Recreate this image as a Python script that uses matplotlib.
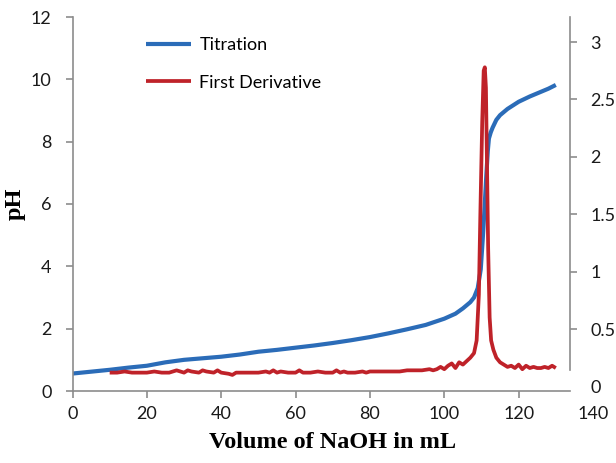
import matplotlib
import matplotlib.pyplot as plt

matplotlib.use("agg")

# titration curve (pH vs mL NaOH)
vol = [0, 5, 10, 15, 20, 25, 30, 35, 40, 45, 50, 55, 60, 65, 70, 75, 80, 85,
       90, 95, 100, 103, 105, 107, 108, 109, 109.8, 110.3, 110.8, 111.3, 111.7,
       112.0, 112.5, 113, 114, 115, 117, 120, 123, 126, 128, 130]
ph = [0.56, 0.62, 0.68, 0.75, 0.81, 0.92, 1.00, 1.05, 1.10, 1.17, 1.26, 1.32,
      1.39, 1.46, 1.54, 1.63, 1.73, 1.85, 1.98, 2.12, 2.32, 2.48, 2.65, 2.85,
      3.00, 3.30, 3.90, 4.80, 5.80, 6.90, 7.70, 8.10, 8.30, 8.45, 8.70, 8.85,
      9.05, 9.28, 9.45, 9.60, 9.70, 9.82]

# first derivative
dvol = [10, 12, 14, 16, 18, 20, 22, 24, 26, 27, 28,
        30, 31, 32, 34, 35, 36, 38, 39, 40, 42, 43,
        44, 46, 48, 50, 52, 53, 54, 55, 56, 58, 60,
        61, 62, 64, 66, 68, 70, 71, 72, 73, 74, 76,
        78, 79, 80, 82, 84, 86, 88, 90, 92, 94, 96,
        97, 98, 99, 100, 101, 102, 103, 104, 105, 106, 107,
        108, 108.7, 109.3, 109.7, 110.2, 110.6, 110.9, 111.2, 111.5, 111.8, 112.2,
        112.6, 113.2, 114, 115, 116, 117, 118, 119, 120, 121, 122,
        123, 124, 125, 126, 127, 128, 129, 130]
deriv = [0.12, 0.12, 0.13, 0.12, 0.12, 0.12, 0.13, 0.12, 0.12, 0.13, 0.14,
         0.12, 0.14, 0.13, 0.12, 0.14, 0.13, 0.12, 0.14, 0.12, 0.11, 0.10,
         0.12, 0.12, 0.12, 0.12, 0.13, 0.12, 0.14, 0.12, 0.13, 0.12, 0.12,
         0.14, 0.12, 0.12, 0.13, 0.12, 0.12, 0.14, 0.12, 0.13, 0.12, 0.12,
         0.13, 0.12, 0.13, 0.13, 0.13, 0.13, 0.13, 0.14, 0.14, 0.14, 0.15,
         0.14, 0.15, 0.17, 0.15, 0.18, 0.20, 0.16, 0.21, 0.19, 0.22, 0.25,
         0.29, 0.40, 0.80, 1.50, 2.30, 2.75, 2.78, 2.60, 1.90, 1.20, 0.60,
         0.40, 0.32, 0.25, 0.21, 0.19, 0.17, 0.18, 0.16, 0.19, 0.15, 0.18,
         0.16, 0.17, 0.16, 0.16, 0.17, 0.16, 0.18, 0.16]

x_ticks = [0, 20, 40, 60, 80, 100, 120, 140]
ph_ticks = [0, 2, 4, 6, 8, 10, 12]
d_ticks = [0, 0.5, 1, 1.5, 2, 2.5, 3]
d_tick_labels = ["0", "0.5", "1", "1.5", "2", "2.5", "3"]

BLUE = "#2b6cb8"
RED = "#bf2229"
GRAY = "#8c8c8c"

plt.rcParams["font.family"] = ["Lato", "DejaVu Sans"]

fig = plt.figure(figsize=(6.16, 4.63), dpi=100)
W, H = 616, 463
ax = fig.add_axes([72.5 / W, (H - 391) / H, (593 - 72.5) / W, (391 - 17) / H])
ax2 = ax.twinx()

l1, = ax.plot(vol, ph, color=BLUE, lw=3.0, solid_capstyle="butt")
l2, = ax2.plot(dvol, deriv, color=RED, lw=2.7, solid_capstyle="butt")

x_end = 133.7
ax.set_xlim(0, 140)
ax.set_ylim(0, 12)
ax2.set_ylim(-0.04, 3.218)

ax.set_xticks(x_ticks)
ax.set_yticks(ph_ticks)
ax2.set_yticks(d_ticks)
ax2.set_yticklabels(d_tick_labels)

for a in (ax, ax2):
    a.spines["top"].set_visible(False)
    for s in a.spines.values():
        s.set_color(GRAY)
        s.set_linewidth(1.2)
ax.spines["right"].set_visible(False)
ax2.spines["left"].set_visible(False)
ax2.spines["bottom"].set_visible(False)
ax.spines["bottom"].set_bounds(0, x_end)
ax2.spines["right"].set_position(("data", x_end))
ax2.spines["right"].set_bounds(0.14, 3.218)

ax.tick_params(axis="both", colors=GRAY, labelcolor="#1a1a1a",
               labelsize=13, length=5, width=1.2, direction="out")
ax.tick_params(axis="x", pad=6)
ax.tick_params(axis="y", pad=10)
ax2.tick_params(axis="y", colors=GRAY, labelcolor="#1a1a1a",
                labelsize=13, length=5, width=1.2, direction="out", pad=10)
ax.xaxis.get_major_ticks()[-1].tick1line.set_visible(False)
ax2.yaxis.get_major_ticks()[0].tick2line.set_visible(False)

ax.set_xlabel("Volume of NaOH in mL", family=["Liberation Serif"],
              fontweight="bold", fontsize=17.5, labelpad=7)
ax.set_ylabel("pH", family=["Liberation Serif"], fontweight="bold",
              fontsize=17.5, labelpad=4)

ax.legend([l1, l2], ["Titration", "First Derivative"], loc="upper left",
          bbox_to_anchor=(0.11, 0.99), frameon=False, fontsize=13,
          handlelength=2.5, handletextpad=0.45, labelspacing=1.2)

fig.savefig("out.png", dpi=100)
